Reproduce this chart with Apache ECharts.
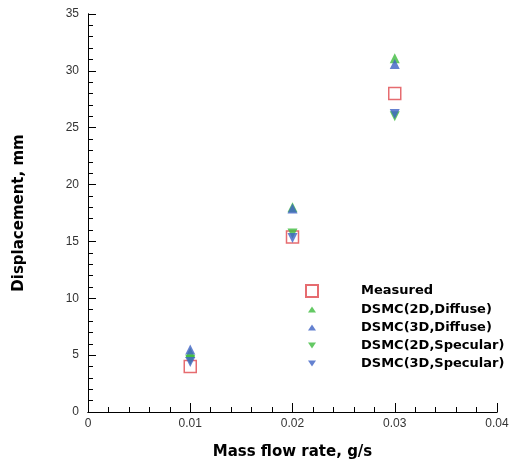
<!DOCTYPE html>
<html>
<head>
<meta charset="utf-8">
<script src="https://cdn.jsdelivr.net/npm/echarts@6/dist/echarts.min.js"></script>
<style>
  html, body { margin: 0; padding: 0; background: #fff; }
  #chart { width: 520px; height: 464px; }
</style>
</head>
<body>
<div id="chart"></div>
<script>
// Mass flow rate (g/s) at which each displacement was recorded
const flowRates = [0.01, 0.02, 0.03];

// Displacement (mm)
const measured       = [4.0, 15.4, 28.0];
const dsmc2dDiffuse  = [5.2, 18.0, 31.1];
const dsmc3dDiffuse  = [5.5, 17.9, 30.6];
const dsmc2dSpecular = [4.6, 15.7, 26.0];
const dsmc3dSpecular = [4.4, 15.3, 26.2];

const seriesNames = [
  'Measured',
  'DSMC(2D,Diffuse)',
  'DSMC(3D,Diffuse)',
  'DSMC(2D,Specular)',
  'DSMC(3D,Specular)'
];

const pair = vals => flowRates.map((x, i) => [x, vals[i]]);

const RED = '#e0474c', GREEN = '#3dbb3d', BLUE = '#3d62c4';
const FONT = '"Liberation Sans", Arial, sans-serif';
const TITLE_FONT = '"DejaVu Sans", sans-serif';

// Legend glyphs: the leading moveTo points pad the box so the
// triangles come out smaller than the square.
const UP_GLYPH   = 'path://M0,0M12,12M2,9L10,9L6,3Z';
const DOWN_GLYPH = 'path://M0,0M12,12M2,3L10,3L6,9Z';

const chart = echarts.init(document.getElementById('chart'), null, { renderer: 'canvas' });

const tickStyle = { color: '#000', width: 1 };

chart.setOption({
  animation: false,
  backgroundColor: '#fff',
  grid: { left: 88, right: 23, top: 14, bottom: 52, outerBoundsMode: 'none' },
  legend: {
    orient: 'vertical',
    left: 300,
    top: 279,
    itemWidth: 12,
    itemHeight: 12,
    itemGap: 5,
    data: [
      { name: seriesNames[0], icon: 'rect' },
      { name: seriesNames[1], icon: UP_GLYPH },
      { name: seriesNames[2], icon: UP_GLYPH },
      { name: seriesNames[3], icon: DOWN_GLYPH },
      { name: seriesNames[4], icon: DOWN_GLYPH }
    ],
    textStyle: {
      fontFamily: TITLE_FONT,
      fontSize: 13,
      fontWeight: 'bold',
      color: '#000',
      padding: [0, 0, 0, 38]
    }
  },
  xAxis: [
    {
      type: 'value',
      position: 'bottom',
      min: 0,
      max: 0.04,
      interval: 0.01,
      name: 'Mass flow rate, g/s',
      nameLocation: 'middle',
      nameGap: 33,
      nameTextStyle: { fontFamily: TITLE_FONT, fontSize: 15, fontWeight: 'bold', color: '#000' },
      axisLine: { show: true, lineStyle: { color: '#000', width: 1 } },
      axisTick: { show: true, inside: true, length: 9, lineStyle: tickStyle },
      splitLine: { show: false },
      axisLabel: { fontFamily: FONT, fontSize: 12, color: '#333', margin: 6,
        formatter: v => (v === 0 ? '0' : v.toFixed(2)) }
    },
    {
      // minor ticks every 0.002
      type: 'value',
      position: 'bottom',
      min: 0,
      max: 0.04,
      interval: 0.002,
      axisLine: { show: true, lineStyle: { color: '#000', width: 1 } },
      axisTick: { show: true, inside: true, length: 5, lineStyle: tickStyle },
      axisLabel: { show: false },
      splitLine: { show: false }
    }
  ],
  yAxis: [
    {
      type: 'value',
      position: 'left',
      min: 0,
      max: 35,
      interval: 5,
      name: 'Displacement, mm',
      nameLocation: 'middle',
      nameGap: 61,
      nameTextStyle: { fontFamily: TITLE_FONT, fontSize: 15, fontWeight: 'bold', color: '#000' },
      axisLine: { show: true, lineStyle: { color: '#000', width: 1 } },
      axisTick: { show: true, inside: true, length: 8, lineStyle: tickStyle },
      splitLine: { show: false },
      axisLabel: { fontFamily: FONT, fontSize: 12, color: '#333', margin: 9 }
    },
    {
      // minor ticks every 1 mm
      type: 'value',
      position: 'left',
      min: 0,
      max: 35,
      interval: 1,
      axisLine: { show: true, lineStyle: { color: '#000', width: 1 } },
      axisTick: { show: true, inside: true, length: 5, lineStyle: tickStyle },
      axisLabel: { show: false },
      splitLine: { show: false }
    }
  ],
  series: [
    {
      name: seriesNames[0], type: 'scatter', data: pair(measured),
      symbol: 'rect', symbolSize: 12,
      itemStyle: { color: 'rgba(255,255,255,0)', borderColor: RED, borderWidth: 1.5 }
    },
    {
      name: seriesNames[1], type: 'scatter', data: pair(dsmc2dDiffuse),
      symbol: 'triangle', symbolSize: 10, itemStyle: { color: GREEN }
    },
    {
      name: seriesNames[2], type: 'scatter', data: pair(dsmc3dDiffuse),
      symbol: 'triangle', symbolSize: 10, itemStyle: { color: BLUE }
    },
    {
      name: seriesNames[3], type: 'scatter', data: pair(dsmc2dSpecular),
      symbol: 'triangle', symbolRotate: 180, symbolSize: 10, itemStyle: { color: GREEN }
    },
    {
      name: seriesNames[4], type: 'scatter', data: pair(dsmc3dSpecular),
      symbol: 'triangle', symbolRotate: 180, symbolSize: 10, itemStyle: { color: BLUE }
    }
  ]
});
</script>
</body>
</html>
